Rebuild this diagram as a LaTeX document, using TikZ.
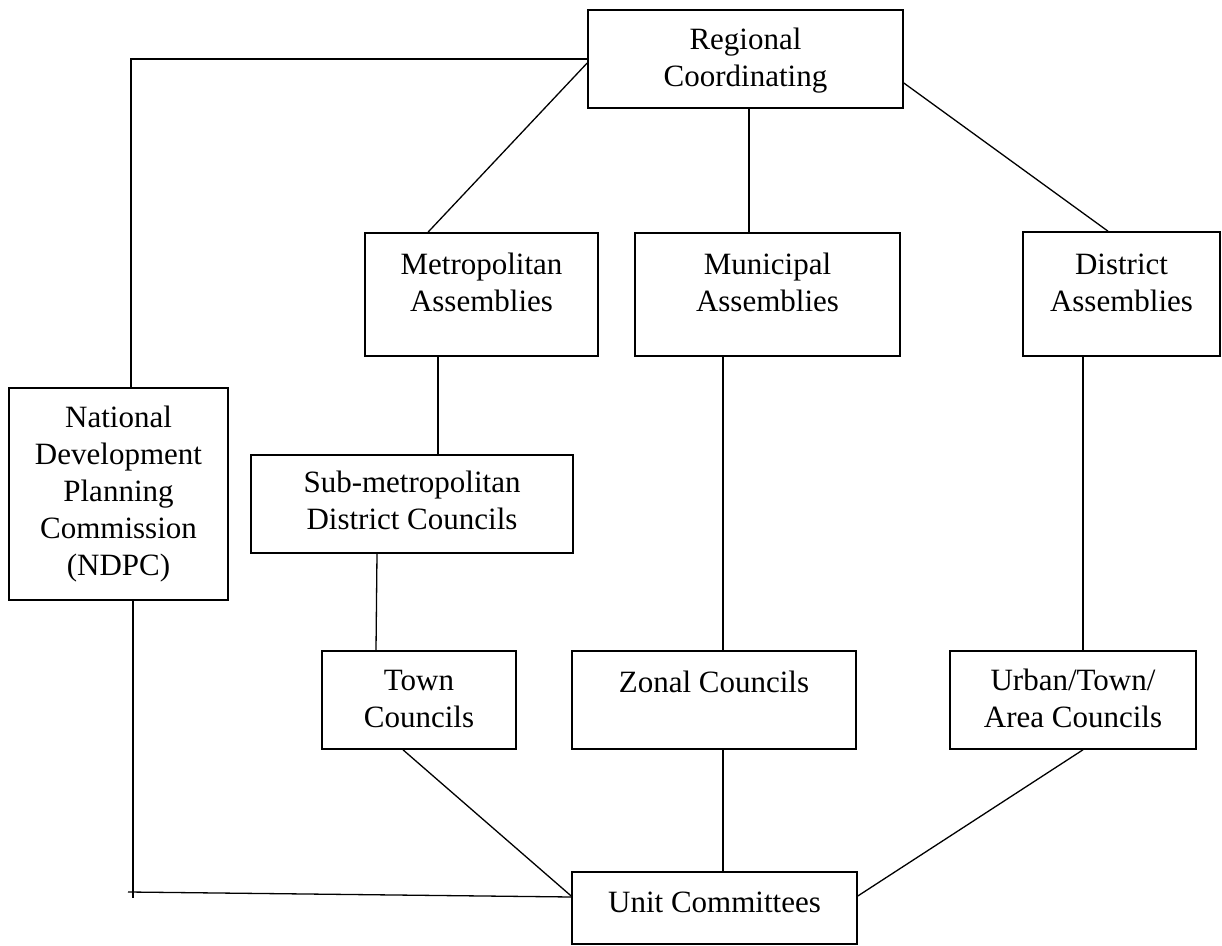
\documentclass[tikz,border=0pt]{standalone}
\usepackage{fontspec}
\setmainfont{Liberation Serif}
\usetikzlibrary{calc}

\tikzset{
  box/.style={draw, line width=0.8pt, inner sep=0pt, fill=white},
  label text/.style={align=center, inner sep=0pt, font=\fontsize{15.5}{18.5}\selectfont},
  link/.style={line width=0.65pt}
}

\begin{document}
\begin{tikzpicture}[x=0.5pt, y=-0.5pt]
  \useasboundingbox (0,0) rectangle (1222,946);

  % boxes (centre, width, height in drawing units)
  \node[box, minimum width=157.5pt, minimum height=49pt]   (reg)  at (745.5,59)  {};
  \node[box, minimum width=116.5pt, minimum height=61.5pt] (met)  at (481.5,294.5) {};
  \node[box, minimum width=132.5pt, minimum height=61.5pt] (mun)  at (767.5,294.5) {};
  \node[box, minimum width=98.5pt,  minimum height=62pt]   (dis)  at (1121.5,294) {};
  \node[box, minimum width=109.5pt, minimum height=106pt]  (ndpc) at (118.5,494) {};
  \node[box, minimum width=161pt,   minimum height=49pt]   (sub)  at (412,504) {};
  \node[box, minimum width=97pt,    minimum height=49pt]   (town) at (419,700) {};
  \node[box, minimum width=142pt,   minimum height=49pt]   (zon)  at (714,700) {};
  \node[box, minimum width=123pt,   minimum height=49pt]   (urb)  at (1073,700) {};
  \node[box, minimum width=142.5pt, minimum height=36pt]   (unit) at (714.5,908) {};

  % box captions
  \node[label text] (reg-t)  at (745.5,61)  {Regional\\Coordinating};
  \node[label text] (met-t)  at (481.5,282) {Metropolitan\\Assemblies};
  \node[label text] (mun-t)  at (767.5,282) {Municipal\\Assemblies};
  \node[label text] (dis-t)  at (1121.5,283) {District\\Assemblies};
  \node[label text] (ndpc-t) at (118.5,494.5) {National\\Development\\Planning\\Commission\\(NDPC)};
  \node[label text] (sub-t)  at (412,500)   {Sub-metropolitan\\District Councils};
  \node[label text] (town-t) at (419,699.5) {Town\\Councils};
  \node[label text] (zon-t)  at (714,681.5) {Zonal Councils};
  \node[label text] (urb-t)  at (1073,698.5) {Urban/Town/\\Area Councils};
  \node[label text] (unit-t) at (714.5,902.5) {Unit Committees};

  % free ends of the NDPC link to the unit committees
  \coordinate (ndpcfoot) at (133,898);
  \coordinate (footstart) at (128,892);

  % connectors
  \draw[link] ($(ndpc.north)+(12.5,0)$) |- (reg.west);
  \draw[link] ($(reg.west)+(0,4)$) -- ($(met.north)+(-53.5,0)$);
  \draw[link] ($(reg.south)+(3.5,0)$) -- ($(mun.north)+(-18.5,0)$);
  \draw[link] ($(reg.east)+(0,24)$) -- ($(dis.north)+(-13.5,0)$);

  \draw[link] ($(met.south)+(-43.5,0)$) -- ($(sub.north)+(26,0)$);
  \draw[link] ($(mun.south)+(-44.5,0)$) -- ($(zon.north)+(9,0)$);
  \draw[link] ($(dis.south)+(-38.5,0)$) -- ($(urb.north)+(10,0)$);
  \draw[link] ($(sub.south)+(-35,0)$) -- ($(town.north)+(-43,0)$);

  \draw[link] ($(town.south)+(-16,0)$) -- ($(unit.west)+(0,-12)$);
  \draw[link] ($(zon.south)+(9,0)$) -- ($(unit.north)+(8.5,0)$);
  \draw[link] ($(urb.south)+(10,0)$) -- ($(unit.east)+(0,-12)$);

  \draw[link] ($(ndpc.south)+(14.5,0)$) -- (ndpcfoot);
  \draw[link] (footstart) -- ($(unit.west)+(0,-11)$);
\end{tikzpicture}
\end{document}
